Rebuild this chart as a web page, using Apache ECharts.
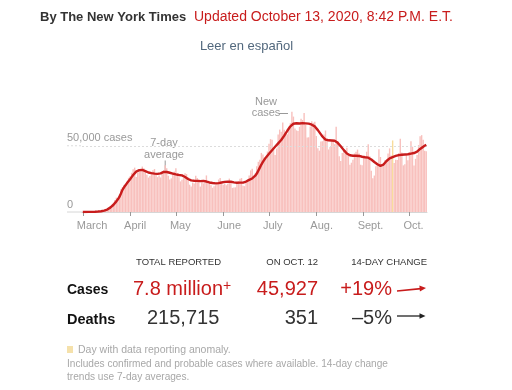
<!DOCTYPE html>
<html><head><meta charset="utf-8">
<script src="https://cdn.jsdelivr.net/npm/echarts@6/dist/echarts.min.js"></script>
<style>html,body{margin:0;padding:0;background:#fff}#c{width:512px;height:390px}</style>
</head><body><div id="c"></div>
<script>
// daily new cases (thousands), by month
const casesMar = [0.02,0.03,0.05,0.05,0.08,0.1,0.12,0.15,0.2,0.3,0.4,0.45,0.6,0.8,0.9,1.2,1.9,2.6,4.2,5.4,6.9,9.0,10.8,10.6,13.1,17.2,18.7,20.4,19.0,21.4,25.8];
const casesApr = [26.9,29.6,32.3,33.5,26.4,29.7,31.1,31.5,34.3,33.0,30.2,28.1,26.0,27.2,30.1,31.6,32.4,29.4,26.3,27.5,26.1,29.7,31.4,35.2,33.0,27.4,24.6,25.4,28.6,30.5];
const casesMay = [33.0,29.3,26.2,23.1,24.4,25.6,29.3,28.6,26.1,20.6,19.3,22.2,21.5,27.4,25.7,24.6,19.2,22.3,21.6,22.5,27.6,23.5,22.4,20.1,18.3,19.4,20.2,22.6,24.5,25.6,21.3];
const casesJun = [20.5,21.6,20.2,21.4,25.2,22.6,18.2,18.4,18.6,21.4,23.3,25.1,25.6,19.8,19.5,23.5,24.6,27.5,31.4,32.6,26.6,29.0,34.6,37.9,39.5,44.6,43.4,41.0,40.6,45.6];
const casesJul = [51.5,55.0,54.6,47.1,43.1,47.9,58.5,62.2,60.6,67.5,62.1,59.4,58.6,64.6,67.0,75.6,72.0,63.0,61.6,61.2,64.3,70.4,69.4,74.8,66.0,56.3,56.4,64.6,68.5,67.3,68.1];
const casesAug = [57.4,48.2,46.3,53.2,53.4,58.4,61.5,55.8,47.2,49.1,53.4,54.6,51.2,64.4,53.6,42.1,38.5,44.5,46.5,46.7,48.4,44.0,35.6,37.2,39.4,44.2,45.4,47.1,44.1,35.7,35.3];
const casesSep = [42.3,40.8,45.5,51.2,42.1,31.1,25.4,27.5,34.6,36.6,47.3,41.5,34.3,35.1,39.3,39.5,44.2,48.0,42.7,54.0,37.0,39.4,39.2,44.5,55.3,45.0,35.2,36.0,43.2,39.1];
const casesOct = [45.2,53.4,49.3,35.1,40.1,43.0,50.5,57.2,58.0,54.5,46.2,45.9];
// 7-day average (thousands), by month
const avgMar = [0.02,0.03,0.04,0.05,0.07,0.09,0.12,0.15,0.2,0.26,0.34,0.45,0.6,0.8,1.0,1.3,1.8,2.5,3.3,4.3,5.3,6.6,8.0,9.6,11.4,14.0,16.7,18.6,20.2,21.8,23.3];
const avgApr = [24.7,26.3,27.9,29.3,30.5,31.2,31.6,31.8,31.8,31.4,30.9,30.3,29.8,29.5,29.3,29.2,29.0,28.9,28.8,28.9,29.2,29.7,30.3,30.5,30.2,29.9,29.6,29.3,29.0,28.7];
const avgMay = [28.4,28.1,27.9,28.0,27.6,27.0,26.4,25.7,24.9,24.2,23.9,23.7,23.6,23.5,23.5,23.4,23.3,23.3,23.5,23.3,23.0,22.6,22.3,22.1,21.9,21.7,21.6,21.7,21.8,22.0,22.3];
const avgJun = [22.5,22.7,22.8,22.9,23.0,22.8,22.6,22.4,22.2,22.1,22.1,22.2,22.2,22.2,22.6,23.0,23.5,24.2,24.8,25.3,26.0,27.4,29.0,31.2,33.5,35.8,37.8,39.6,41.2,42.7];
const avgJul = [44.0,45.3,46.6,48.0,49.2,50.6,51.8,53.0,54.3,55.8,57.6,59.5,61.3,63.0,64.6,65.8,66.6,66.9,67.0,66.9,66.8,67.0,67.1,67.0,66.9,66.8,66.7,66.4,65.9,65.4,64.6];
const avgAug = [63.4,61.8,60.3,58.6,57.0,55.6,54.6,54.2,54.1,54.0,54.0,54.1,53.8,53.2,52.2,51.0,49.6,48.2,46.7,45.3,44.1,43.3,42.8,42.6,42.5,42.5,42.5,42.4,42.3,42.0,41.7];
const avgSep = [41.5,41.3,41.1,41.0,40.6,39.6,38.6,37.7,36.8,36.0,35.3,34.8,35.0,35.8,37.0,38.5,39.6,40.5,41.0,41.4,41.9,42.3,42.6,42.9,43.1,43.2,43.2,43.4,43.5,43.6];
const avgOct = [43.8,44.1,44.4,44.5,44.7,45.5,46.6,47.6,48.5,49.3,50.0,50.7];
const anomalyDays = ['2020-09-20'];
const monthNames = {'03':'March','04':'April','05':'May','06':'June','07':'July','08':'Aug.','09':'Sept.','10':'Oct.'};
const yTicks = [0, 50];

const cases = [].concat(casesMar,casesApr,casesMay,casesJun,casesJul,casesAug,casesSep,casesOct);
const avg = [].concat(avgMar,avgApr,avgMay,avgJun,avgJul,avgAug,avgSep,avgOct);
const days = cases.map((_, i) => new Date(Date.UTC(2020, 2, 1 + i)).toISOString().slice(0, 10));

const FONT = "'Liberation Sans', Arial, sans-serif";
const RED = '#c81c1c';
const chart = echarts.init(document.getElementById('c'), null, {renderer: 'canvas'});
const isFirst = (i) => days[i].slice(8) === '01';

const barData = cases.map((v, i) => anomalyDays.includes(days[i])
  ? {value: v, itemStyle: {color: '#f8dc9c'}} : v);

function txt(x, y, text, size, color, opts) {
  opts = opts || {};
  return {type: 'text', x: x, y: y, silent: true,
    style: {text: text, font: (opts.weight || 'normal') + ' ' + size + 'px ' + FONT, fill: color,
      textAlign: opts.align || 'left', textVerticalAlign: 'middle', rich: opts.rich}};
}

const option = {
  animation: false,
  grid: {left: 82, width: 345, top: 106, height: 106},
  xAxis: {
    type: 'category', data: days, boundaryGap: true,
    axisLine: {show: true, lineStyle: {color: '#d6d6d6', width: 1}},
    axisTick: {show: true, alignWithLabel: true, interval: (i) => isFirst(i), length: 4, lineStyle: {color: '#999'}},
    axisLabel: {interval: (i) => isFirst(i), formatter: (v) => monthNames[v.slice(5, 7)],
      color: '#999', fontSize: 11, fontFamily: FONT, margin: 8, align: 'left', padding: [0, 0, 0, -6]}
  },
  yAxis: {
    type: 'value', min: 0, max: 80, interval: 50,
    axisLine: {show: false}, axisTick: {show: false},
    splitLine: {show: false},
    axisLabel: {formatter: (v) => yTicks.includes(v) ? (v === 0 ? '0' : (v * 1000).toLocaleString('en-US') + ' cases') : '',
      color: '#999', fontSize: 11, fontFamily: FONT, align: 'left', margin: 15, verticalAlign: 'bottom', padding: [0, 0, 2, 0]}
  },
  series: [
    {type: 'bar', data: barData, barCategoryGap: '8%', itemStyle: {color: '#f8c0bd'}, silent: true,
      markLine: {silent: true, symbol: 'none', label: {show: false},
        lineStyle: {color: '#dcdcdc', type: [2, 2], width: 1}, data: [{yAxis: yTicks[1]}]}},
    {type: 'line', data: avg, symbol: 'none', lineStyle: {color: RED, width: 2.4}, itemStyle: {color: RED}, silent: true, z: 5}
  ]
};
chart.setOption(option);

const y0 = chart.convertToPixel({yAxisIndex: 0}, 0);
const y50 = chart.convertToPixel({yAxisIndex: 0}, 50);
const xAvgNote = chart.convertToPixel({xAxisIndex: 0}, '2020-04-24');
const yAvgNote = chart.convertToPixel({yAxisIndex: 0}, 30.5);

const g = [
  txt(40, 17, 'By The New York Times', 13, '#333', {weight: 'bold'}),
  txt(194, 17, 'Updated October 13, 2020, 8:42 P.M. E.T.', 14, RED),
  txt(246.5, 46, 'Leer en español', 13, '#52687d', {align: 'center'}),
  {type: 'line', silent: true, shape: {x1: 67, y1: y0, x2: 82, y2: y0}, style: {stroke: '#d6d6d6', lineWidth: 1}},
  {type: 'line', silent: true, shape: {x1: 67, y1: y50, x2: 82, y2: y50}, style: {stroke: '#dcdcdc', lineWidth: 1, lineDash: [2, 2]}},
  txt(164, 143, '7-day', 11, '#999', {align: 'center'}),
  txt(164, 154.5, 'average', 11, '#999', {align: 'center'}),
  {type: 'line', silent: true, shape: {x1: xAvgNote, y1: 160.5, x2: xAvgNote, y2: yAvgNote}, style: {stroke: '#999', lineWidth: 1}},
  txt(266, 102, 'New', 11, '#999', {align: 'center'}),
  txt(266, 113, 'cases', 11, '#999', {align: 'center'}),
  {type: 'line', silent: true, shape: {x1: 279, y1: 113.5, x2: 288, y2: 113.5}, style: {stroke: '#999', lineWidth: 1}},
  txt(136, 262, 'TOTAL REPORTED', 9.5, '#333'),
  txt(318, 262, 'ON OCT. 12', 9.5, '#333', {align: 'right'}),
  txt(427, 262, '14-DAY CHANGE', 9.5, '#333', {align: 'right'}),
  txt(67, 290, 'Cases', 14, '#121212', {weight: 'bold'}),
  txt(67, 320, 'Deaths', 14.5, '#121212', {weight: 'bold'}),
  txt(133, 289, '7.8 million{p|+}', 20, RED, {rich: {p: {fontSize: 14, fill: RED, color: RED, fontFamily: FONT, verticalAlign: 'top', padding: [0, 0, 5, 0]}}}),
  txt(318, 289, '45,927', 20, RED, {align: 'right'}),
  txt(392, 289, '+19%', 20, RED, {align: 'right'}),
  txt(147, 318, '215,715', 20, '#333'),
  txt(318, 318, '351', 20, '#333', {align: 'right'}),
  txt(392, 318, '\u20135%', 20, '#333', {align: 'right'}),
  {type: 'polyline', silent: true, shape: {points: [[397, 291], [421, 288.6]]}, style: {stroke: RED, lineWidth: 1.6, fill: null}},
  {type: 'polygon', silent: true, shape: {points: [[426, 288.1], [419.9, 291.4], [419.4, 285.6]]}, style: {fill: RED}},
  {type: 'polyline', silent: true, shape: {points: [[397, 316], [421, 316]]}, style: {stroke: '#222', lineWidth: 1.3, fill: null}},
  {type: 'polygon', silent: true, shape: {points: [[425.5, 316], [419.5, 313.2], [419.5, 318.8]]}, style: {fill: '#222'}},
  {type: 'rect', silent: true, shape: {x: 67, y: 346, width: 6, height: 7}, style: {fill: '#f5e1ab'}},
  txt(78, 350, 'Day with data reporting anomaly.', 10.5, '#a8a8a8'),
  txt(67, 364, 'Includes confirmed and probable cases where available. 14-day change', 10.1, '#a8a8a8'),
  txt(67, 377, 'trends use 7-day averages.', 10.1, '#a8a8a8')
];
chart.setOption({graphic: g});
</script></body></html>
